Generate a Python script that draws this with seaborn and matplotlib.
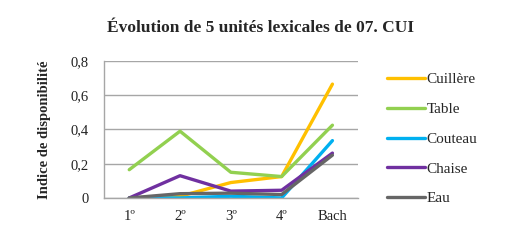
import pandas as pd
import matplotlib.pyplot as plt
import seaborn as sns

niveaux = ['1º', '2º', '3º', '4º', 'Bach']
cuillere = [0.0, 0.01, 0.09, 0.125, 0.665]
table = [0.165, 0.39, 0.15, 0.125, 0.425]
couteau = [0.0, 0.0, 0.01, 0.0, 0.335]
chaise = [0.0, 0.13, 0.04, 0.045, 0.262]
eau = [0.0, 0.025, 0.028, 0.02, 0.25]

unites = ['Cuillère', 'Table', 'Couteau', 'Chaise', 'Eau']
couleurs = ['#FFC000', '#92D050', '#00B0F0', '#7030A0', '#666666']

df = pd.DataFrame({'Niveau': niveaux, 'Cuillère': cuillere, 'Table': table,
                   'Couteau': couteau, 'Chaise': chaise, 'Eau': eau})
df_plot = df.melt(id_vars='Niveau', var_name='Unité', value_name='Indice')

sns.set_theme(style='white')
plt.rcParams['font.family'] = ['Liberation Serif', 'DejaVu Serif']

fig = plt.figure(figsize=(5.09, 2.42), dpi=100)
ax = fig.add_axes([0.204, 0.182, 0.499, 0.566])

sns.lineplot(data=df_plot, x='Niveau', y='Indice', hue='Unité', hue_order=unites,
             palette=couleurs, linewidth=2.4, ax=ax, sort=False)

ax.set_xlim(-0.5, 4.5)
ax.set_ylim(0, 0.8)
ax.set_yticks([0, 0.2, 0.4, 0.6, 0.8])
ax.set_yticklabels(['0', '0,2', '0,4', '0,6', '0,8'], fontsize=10.5)
ax.set_xticks(range(len(niveaux)))
ax.set_xticklabels(niveaux, fontsize=10.5)
ax.tick_params(axis='x', length=0, pad=9, colors='#222222')
ax.tick_params(axis='y', length=0, pad=11, colors='#222222')
ax.yaxis.grid(True, color='#A6A6A6', linewidth=1)
for side in ['top', 'right']:
    ax.spines[side].set_visible(False)
for side in ['left', 'bottom']:
    ax.spines[side].set_color('#A6A6A6')
    ax.spines[side].set_linewidth(1)

ax.set_xlabel('')
ax.set_ylabel('Indice de disponibilité', fontsize=10.5, fontweight='bold', labelpad=14)
fig.text(0.511, 0.885, 'Évolution de 5 unités lexicales de 07. CUI', fontsize=12.5,
         fontweight='bold', ha='center', va='center')

ax.legend(loc='center left', bbox_to_anchor=(1.06, 0.43), frameon=False,
          fontsize=11, handlelength=2.5, handletextpad=0.1, labelspacing=1.05)

plt.savefig('out.png', dpi=100)
